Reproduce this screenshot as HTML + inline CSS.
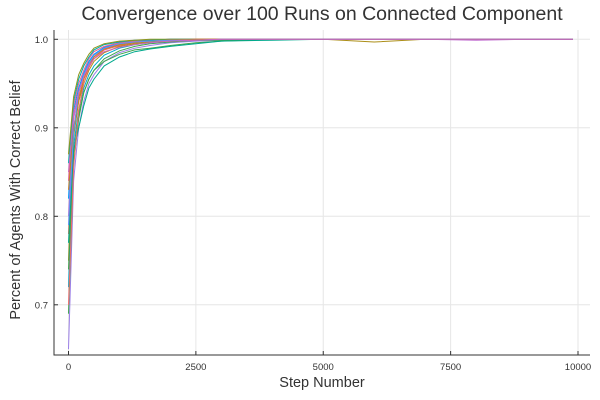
<!DOCTYPE html>
<html><head><meta charset="utf-8"><style>
body{margin:0;background:#fff}
svg{display:block;font-family:"Liberation Sans","DejaVu Sans",sans-serif}
</style></head><body>
<svg id="chart" width="600" height="400"></svg>
<script>
const steps=[0,100,200,300,400,500,700,1000,1300,1600,2000,2500,3000,4000,5000,6000,7000,8000,9000,9900];
const series=[
[0.65,0.84,0.90,0.93,0.95,0.96,0.975,0.985,0.99,0.993,0.996,0.998,0.999,1,1,1,1,1,1,1],
[0.69,0.86,0.91,0.94,0.955,0.965,0.978,0.987,0.992,0.995,0.997,0.999,0.999,1,1,1,1,1,1,1],
[0.72,0.88,0.92,0.945,0.96,0.97,0.982,0.99,0.994,0.996,0.998,0.999,1,1,1,1,1,1,1,1],
[0.75,0.89,0.93,0.95,0.965,0.975,0.985,0.992,0.995,0.997,0.998,0.999,1,1,1,0.997,1,1,1,1],
[0.78,0.90,0.935,0.955,0.97,0.978,0.988,0.993,0.996,0.998,0.999,1,1,1,1,1,1,1,1,1],
[0.80,0.91,0.94,0.96,0.972,0.98,0.99,0.995,0.997,0.998,0.999,1,1,1,1,1,1,0.999,1,1],
[0.82,0.92,0.945,0.962,0.975,0.983,0.991,0.996,0.998,0.999,1,1,1,1,1,1,1,1,1,1],
[0.84,0.925,0.95,0.965,0.978,0.986,0.992,0.996,0.998,0.999,1,1,1,1,1,1,1,1,1,1],
[0.86,0.93,0.955,0.97,0.98,0.988,0.994,0.997,0.999,0.999,1,1,1,1,1,1,1,1,1,1],
[0.87,0.935,0.96,0.973,0.983,0.99,0.995,0.998,0.999,1,1,1,1,1,1,1,1,1,1,1],
[0.74,0.87,0.915,0.94,0.955,0.965,0.975,0.983,0.988,0.99,0.993,0.996,0.998,1,1,1,1,1,1,1],
[0.77,0.875,0.90,0.925,0.945,0.955,0.97,0.98,0.986,0.989,0.992,0.995,0.998,0.999,1,1,1,1,1,1],
[0.70,0.855,0.92,0.95,0.968,0.978,0.988,0.994,0.997,0.998,0.999,1,1,1,1,1,1,1,1,1],
[0.83,0.90,0.93,0.955,0.97,0.98,0.989,0.994,0.996,0.998,0.999,1,1,1,1,1,1,1,1,1],
[0.79,0.895,0.94,0.96,0.973,0.982,0.99,0.995,0.997,0.998,0.999,0.999,1,1,1,1,1,1,1,1],
[0.85,0.915,0.94,0.958,0.97,0.978,0.986,0.991,0.994,0.996,0.998,0.999,1,1,1,1,1,1,1,1]
];
const xTicks=[0,2500,5000,7500,10000];
const yTicks=[0.7,0.8,0.9,1.0];
const yTickLabels=["0.7","0.8","0.9","1.0"];
const colors=["#9b7fe8","#3ea44e","#00a9cd","#ac8e18","#e36f47","#c371d2","#009afa","#ed5e93","#00aaae","#8e971e","#3ea44e","#00a98d","#f16c6b","#c68225","#618df6","#ce64be"];
const NS="http://www.w3.org/2000/svg";
const svg=document.getElementById('chart');
const X=v=>68.5+v*(578-68.5)/10000;
const Y=v=>39.3+(1-v)*885;
function mk(t,a,p){const e=document.createElementNS(NS,t);for(const k in a)e.setAttribute(k,a[k]);(p||svg).appendChild(e);return e;}
xTicks.forEach(t=>{const l=mk('line',{x1:X(t),x2:X(t),y1:30,y2:355,stroke:'#e6e6e6','stroke-width':1});

});
yTicks.forEach(t=>{const l=mk('line',{x1:54,x2:590,y1:Y(t),y2:Y(t),stroke:'#e6e6e6','stroke-width':1});

});
series.forEach((s,i)=>{const d=s.map((v,j)=>(j?'L':'M')+X(steps[j]).toFixed(1)+' '+Y(v).toFixed(1)).join('');
const p=mk('path',{d:d,fill:'none',stroke:colors[i%colors.length],'stroke-width':1});

});
const ax=mk('path',{d:'M54 30 L54 355 L590 355',fill:'none',stroke:'#333','stroke-width':1});


xTicks.forEach(t=>{mk('line',{x1:X(t),x2:X(t),y1:355,y2:351,stroke:'#333'});
const tx=mk('text',{x:X(t),y:370,'text-anchor':'middle','font-size':9.5,fill:'#333'});tx.textContent=t;

});
yTicks.forEach((t,i)=>{mk('line',{x1:54,x2:58,y1:Y(t),y2:Y(t),stroke:'#333'});
const tx=mk('text',{x:48,y:Y(t)+3.5,'text-anchor':'end','font-size':9.5,fill:'#333'});tx.textContent=yTickLabels[i];

});
</script>
<div style="position:absolute;left:0;top:0;width:600px;height:400px;pointer-events:none;font-family:'Liberation Sans','DejaVu Sans',sans-serif">
<div style="position:absolute;top:3px;left:54px;width:536px;text-align:center;font-size:19.5px;color:#333">Convergence over 100 Runs on Connected Component</div>
<div style="position:absolute;top:375px;left:54px;width:536px;text-align:center;font-size:14.5px;color:#333">Step Number</div>
<div style="position:absolute;left:16px;top:200px;width:0;height:0"><div style="position:absolute;transform:translate(-50%,-50%) rotate(-90deg);white-space:nowrap;font-size:14.5px;color:#333">Percent of Agents With Correct Belief</div></div>
</div>
</body></html>
